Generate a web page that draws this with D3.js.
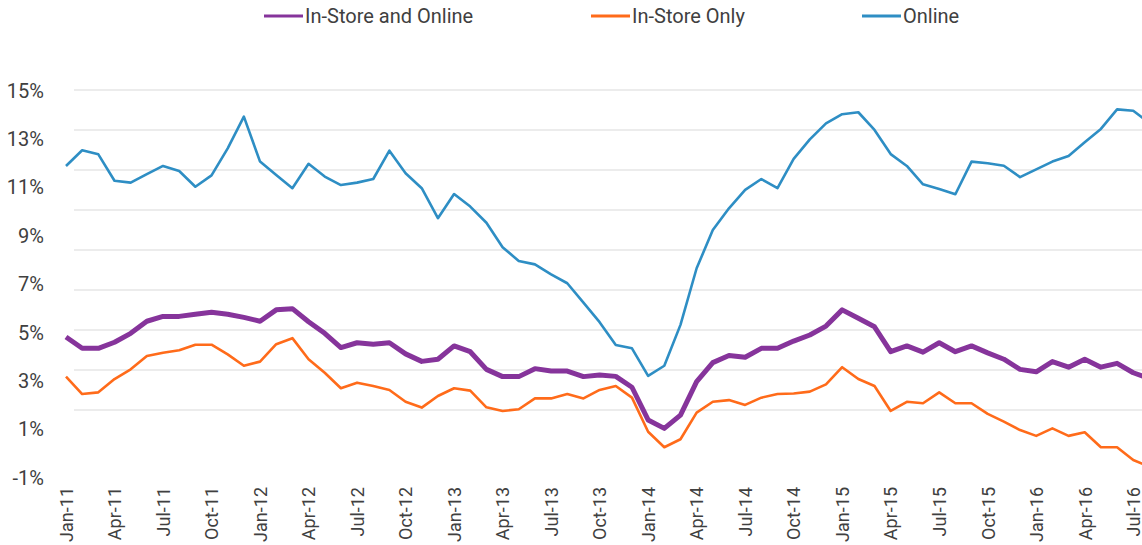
<!DOCTYPE html>
<html>
<head>
<meta charset="utf-8">
<script src="https://cdn.jsdelivr.net/npm/d3@7"></script>
<style>
  body { margin: 0; background: #fff; }
  svg text { font-family: Roboto, "Open Sans", sans-serif; fill: #404040; }
</style>
</head>
<body>
<div id="chart"></div>
<script>
// Monthly categories, Jan-11 .. Aug-16 (last point runs off the right edge)
const months = d3.timeMonths(new Date(2011, 0, 1), new Date(2016, 8, 1))

const seriesNames = ["In-Store and Online", "In-Store Only", "Online"]
const seriesColors = ["#86349b", "#ff6b1a", "#2e8ec4"]
const seriesWidths = [5, 2.6, 2.6]

// values in %
const inStoreAndOnline = [
  4.79, 4.32, 4.32, 4.57, 4.94, 5.44, 5.64, 5.64, 5.73, 5.81, 5.73, 5.60,
  5.44, 5.91, 5.96, 5.42, 4.94, 4.35, 4.55, 4.49, 4.55, 4.09, 3.78, 3.87,
  4.42, 4.18, 3.45, 3.15, 3.15, 3.48, 3.38, 3.38, 3.15, 3.22, 3.16, 2.71,
  1.36, 1.01, 1.56, 2.94, 3.73, 4.02, 3.95, 4.32, 4.32, 4.62, 4.87, 5.24,
  5.91, 5.56, 5.21, 4.18, 4.42, 4.16, 4.55, 4.18, 4.42, 4.13, 3.87, 3.45,
  3.35, 3.77, 3.54, 3.87, 3.54, 3.70, 3.31, 3.08
]
const inStoreOnly = [
  3.15, 2.43, 2.50, 3.05, 3.45, 4.00, 4.14, 4.24, 4.47, 4.47, 4.07, 3.60,
  3.77, 4.49, 4.74, 3.87, 3.31, 2.67, 2.90, 2.76, 2.60, 2.11, 1.87, 2.35,
  2.67, 2.57, 1.88, 1.73, 1.80, 2.25, 2.25, 2.43, 2.25, 2.60, 2.76, 2.28,
  0.87, 0.23, 0.56, 1.66, 2.11, 2.18, 1.98, 2.28, 2.43, 2.45, 2.53, 2.83,
  3.54, 3.05, 2.76, 1.73, 2.11, 2.05, 2.50, 2.05, 2.05, 1.61, 1.29, 0.94,
  0.70, 1.01, 0.70, 0.85, 0.23, 0.23, -0.30, -0.57
]
const online = [
  11.86, 12.51, 12.34, 11.25, 11.17, 11.52, 11.86, 11.65, 11.00, 11.47, 12.59, 13.90,
  12.04, 11.49, 10.94, 11.95, 11.42, 11.07, 11.17, 11.32, 12.49, 11.56, 10.94, 9.70,
  10.70, 10.18, 9.51, 8.50, 7.93, 7.79, 7.38, 7.01, 6.21, 5.40, 4.46, 4.32,
  3.18, 3.60, 5.29, 7.63, 9.21, 10.11, 10.87, 11.32, 10.94, 12.15, 12.96, 13.62,
  14.00, 14.08, 13.35, 12.35, 11.86, 11.10, 10.91, 10.69, 12.04, 11.97, 11.87, 11.40,
  11.72, 12.04, 12.27, 12.84, 13.39, 14.20, 14.14, 13.64
]

const yTicks = [15, 13, 11, 9, 7, 5, 3, 1, -1]

const width = 1142
const height = 545

const x = d3.scalePoint()
  .domain(d3.range(months.length))
  .range([66, 1149.4])

// data + tick labels
const y = d3.scaleLinear()
  .domain([-1, 15])
  .range([477, 90])

// the gridlines in the source sit on a tighter spacing than the labels
const gridY = d3.scaleLinear()
  .domain([-1, 15])
  .range([410, 90])

const svg = d3.select("#chart")
  .append("svg")
  .attr("width", width)
  .attr("height", height)

// gridlines
svg.append("g")
  .selectAll("line")
  .data(yTicks)
  .join("line")
  .attr("x1", 74)
  .attr("x2", width)
  .attr("y1", d => gridY(d))
  .attr("y2", d => gridY(d))
  .attr("stroke", "#d9d9d9")
  .attr("stroke-width", 1)

// y axis labels
const yAxis = svg.append("g")
  .attr("transform", "translate(44,0)")
  .call(d3.axisLeft(y).tickValues(yTicks).tickSize(0).tickPadding(0).tickFormat(d => d + "%"))
yAxis.select(".domain").remove()
yAxis.selectAll("text")
  .style("font-size", "20px")
  .attr("dy", "0.36em")

// x axis labels, every third month, rotated
const fmt = d3.timeFormat("%b-%y")
const xTickIdx = d3.range(0, months.length, 3)
const xAxis = svg.append("g")
  .attr("transform", "translate(0,487)")
  .call(d3.axisBottom(x).tickValues(xTickIdx).tickSize(0).tickPadding(0).tickFormat(i => fmt(months[i])))
xAxis.select(".domain").remove()
xAxis.selectAll("text")
  .style("font-size", "18px")
  .attr("text-anchor", "end")
  .attr("transform", "rotate(-90)")
  .attr("x", 0)
  .attr("y", 0)
  .attr("dx", 0)
  .attr("dy", "0.35em")

// lines
const line = d3.line()
  .x((d, i) => x(i))
  .y(d => y(d))

const seriesData = [inStoreAndOnline, inStoreOnly, online]
seriesData.forEach((values, k) => {
  svg.append("path")
    .datum(values)
    .attr("fill", "none")
    .attr("stroke", seriesColors[k])
    .attr("stroke-width", seriesWidths[k])
    .attr("stroke-linejoin", "round")
    .attr("d", line)
})

// legend
const legendX = [264, 591, 862]
const legend = svg.append("g")
  .selectAll("g")
  .data(seriesNames)
  .join("g")
  .attr("transform", (d, i) => `translate(${legendX[i]},16)`)
legend.append("line")
  .attr("x1", 0)
  .attr("x2", 39)
  .attr("stroke", (d, i) => seriesColors[i])
  .attr("stroke-width", 3)
legend.append("text")
  .attr("x", 41)
  .attr("dy", "0.35em")
  .style("font-size", "20px")
  .text(d => d)
</script>
</body>
</html>
